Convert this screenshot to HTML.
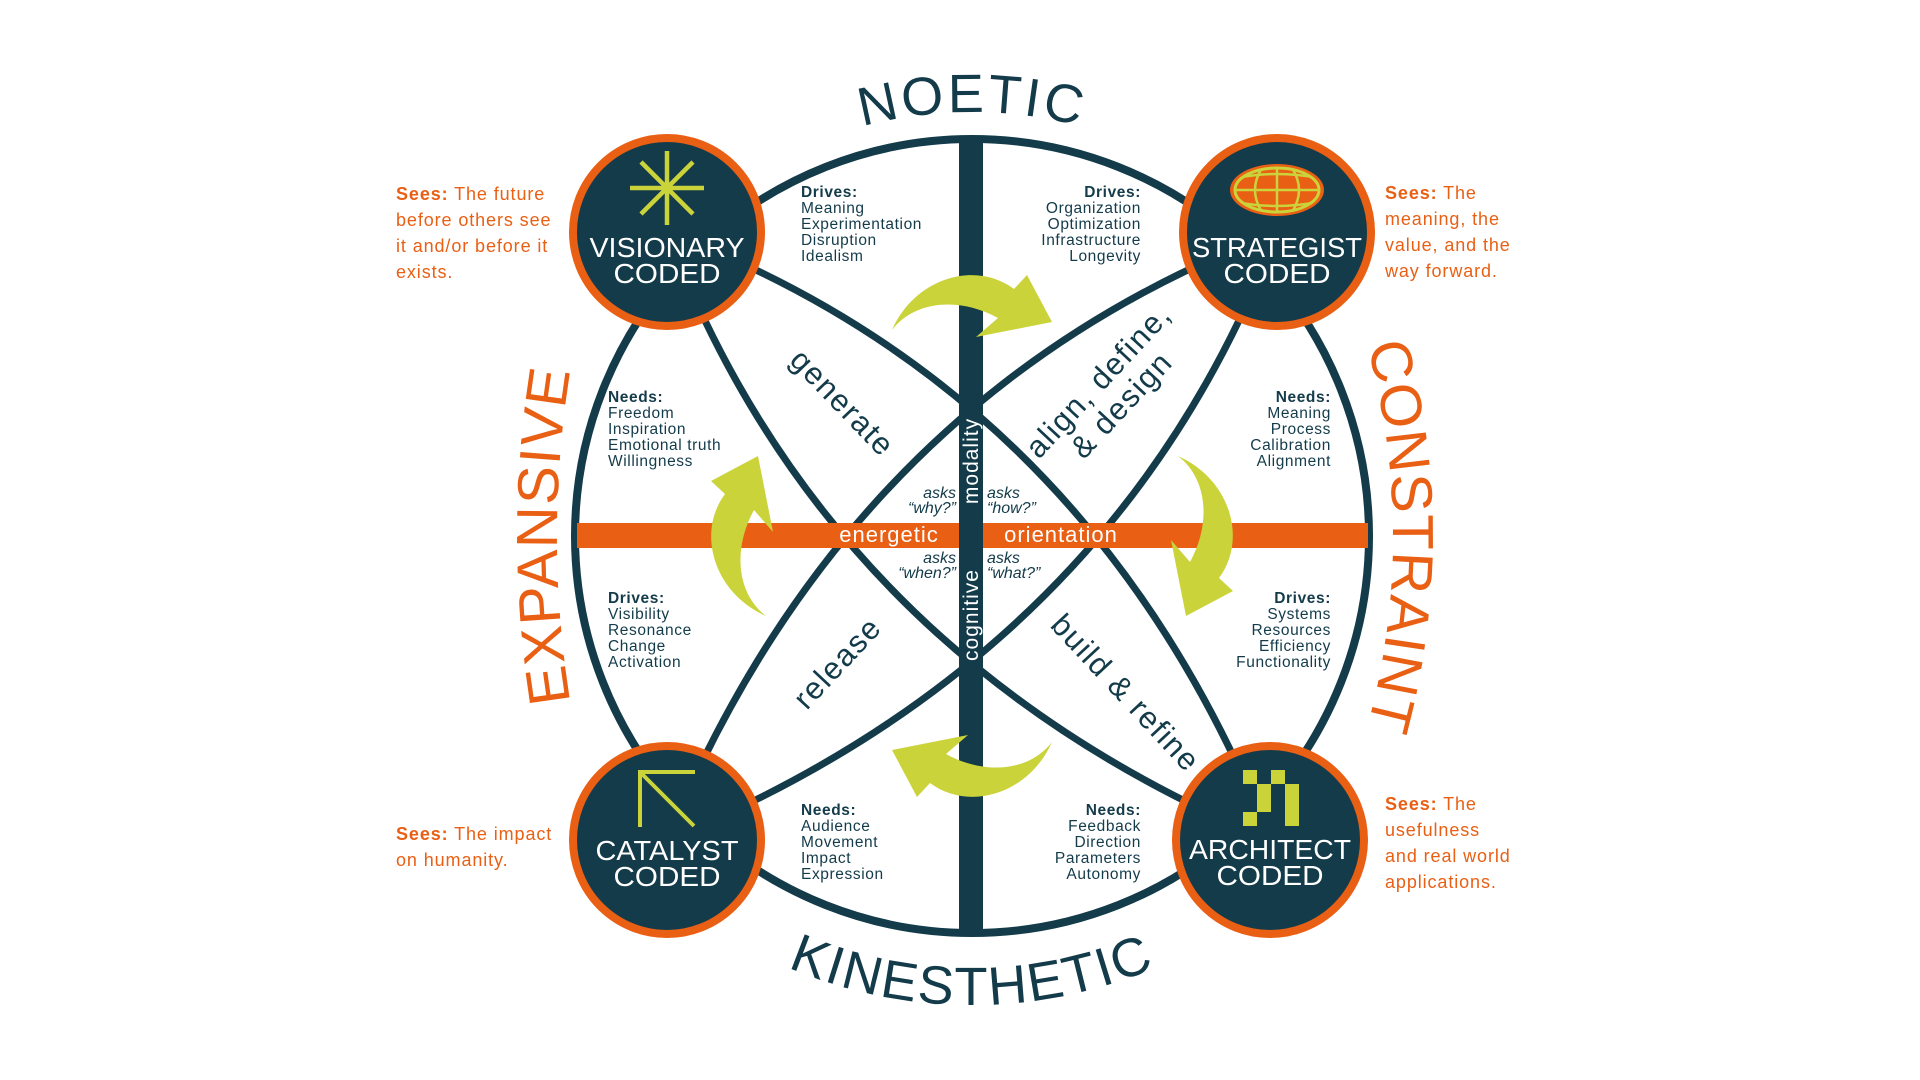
<!DOCTYPE html>
<html><head><meta charset="utf-8"><style>
html,body{margin:0;padding:0;background:#fff;}
svg{display:block;}
text{font-family:"Liberation Sans",sans-serif;}
</style></head><body>
<svg width="1920" height="1080" viewBox="0 0 1920 1080" xmlns="http://www.w3.org/2000/svg">
<defs>
<path id="topArc" d="M548,536 A424,424 0 0 1 1396,536"/>
<path id="botArc" d="M503,536 A469,469 0 0 0 1441,536"/>
<path id="leftArc" d="M572,712 Q542,536 572,360"/>
<path id="rightArc" d="M1367,345 Q1419,536 1367,728"/>
<path id="arrow" d="M892,330 C915,278 975,260 1014,289 L1027,275 L1052,322 L976,337 L998,318 C960,297 915,300 892,330 Z"/>
<clipPath id="globeClip"><ellipse cx="1277" cy="190" rx="41" ry="21"/></clipPath>
</defs>

<circle cx="972" cy="536" r="397" fill="none" stroke="#133b4a" stroke-width="8"/>
<g fill="none" stroke="#133b4a" stroke-width="7">
<path d="M667,232 Q1092,392 1270,840"/>
<path d="M667,232 Q828,656 1270,840"/>
<path d="M1277,232 Q852,392 667,840"/>
<path d="M1277,232 Q1116,656 667,840"/>
</g>
<rect x="577" y="523" width="791" height="25" fill="#e95f14"/>
<rect x="959" y="139" width="24" height="794" fill="#133b4a"/>

<text x="889" y="542" font-size="22" fill="#fff" text-anchor="middle" letter-spacing="1">energetic</text>
<text x="1061" y="542" font-size="22" fill="#fff" text-anchor="middle" letter-spacing="1">orientation</text>
<text transform="translate(978,461) rotate(-90)" font-size="21" fill="#fff" text-anchor="middle" letter-spacing="1">modality</text>
<text transform="translate(978,615) rotate(-90)" font-size="21" fill="#fff" text-anchor="middle" letter-spacing="1">cognitive</text>
<g font-size="16" font-style="italic" fill="#133b4a">
<text x="956" y="498" text-anchor="end">asks</text>
<text x="956" y="513" text-anchor="end">“why?”</text>
<text x="987" y="498">asks</text>
<text x="987" y="513">“how?”</text>
<text x="956" y="563" text-anchor="end">asks</text>
<text x="956" y="578" text-anchor="end">“when?”</text>
<text x="987" y="563">asks</text>
<text x="987" y="578">“what?”</text>
</g>

<g fill="#133b4a" font-size="31" text-anchor="middle" letter-spacing="1.5">
<text transform="translate(835,410) rotate(46)">generate</text>
<text transform="translate(1106,388) rotate(-47)">align, define,</text>
<text transform="translate(1129,412) rotate(-47)">&amp; design</text>
<text transform="translate(845,670) rotate(-47)">release</text>
<text transform="translate(1118,700) rotate(47)">build &amp; refine</text>
</g>

<g fill="#133b4a" font-size="15.5" letter-spacing="0.6">
<text x="801" y="197"><tspan font-weight="bold">Drives:</tspan><tspan x="801" dy="16">Meaning</tspan><tspan x="801" dy="16">Experimentation</tspan><tspan x="801" dy="16">Disruption</tspan><tspan x="801" dy="16">Idealism</tspan></text>
<text x="1141" y="197" text-anchor="end"><tspan font-weight="bold">Drives:</tspan><tspan x="1141" dy="16">Organization</tspan><tspan x="1141" dy="16">Optimization</tspan><tspan x="1141" dy="16">Infrastructure</tspan><tspan x="1141" dy="16">Longevity</tspan></text>
<text x="608" y="402"><tspan font-weight="bold">Needs:</tspan><tspan x="608" dy="16">Freedom</tspan><tspan x="608" dy="16">Inspiration</tspan><tspan x="608" dy="16">Emotional truth</tspan><tspan x="608" dy="16">Willingness</tspan></text>
<text x="1331" y="402" text-anchor="end"><tspan font-weight="bold">Needs:</tspan><tspan x="1331" dy="16">Meaning</tspan><tspan x="1331" dy="16">Process</tspan><tspan x="1331" dy="16">Calibration</tspan><tspan x="1331" dy="16">Alignment</tspan></text>
<text x="608" y="603"><tspan font-weight="bold">Drives:</tspan><tspan x="608" dy="16">Visibility</tspan><tspan x="608" dy="16">Resonance</tspan><tspan x="608" dy="16">Change</tspan><tspan x="608" dy="16">Activation</tspan></text>
<text x="1331" y="603" text-anchor="end"><tspan font-weight="bold">Drives:</tspan><tspan x="1331" dy="16">Systems</tspan><tspan x="1331" dy="16">Resources</tspan><tspan x="1331" dy="16">Efficiency</tspan><tspan x="1331" dy="16">Functionality</tspan></text>
<text x="801" y="815"><tspan font-weight="bold">Needs:</tspan><tspan x="801" dy="16">Audience</tspan><tspan x="801" dy="16">Movement</tspan><tspan x="801" dy="16">Impact</tspan><tspan x="801" dy="16">Expression</tspan></text>
<text x="1141" y="815" text-anchor="end"><tspan font-weight="bold">Needs:</tspan><tspan x="1141" dy="16">Feedback</tspan><tspan x="1141" dy="16">Direction</tspan><tspan x="1141" dy="16">Parameters</tspan><tspan x="1141" dy="16">Autonomy</tspan></text>
</g>

<g fill="#cbd33a">
<use href="#arrow"/>
<use href="#arrow" transform="rotate(90 972 536)"/>
<use href="#arrow" transform="rotate(180 972 536)"/>
<use href="#arrow" transform="rotate(270 972 536)"/>
</g>

<g fill="#133b4a" stroke="#e95f14" stroke-width="8">
<circle cx="667" cy="232" r="94"/>
<circle cx="1277" cy="232" r="94"/>
<circle cx="667" cy="840" r="94"/>
<circle cx="1270" cy="840" r="94"/>
</g>

<g stroke="#cbd33a" stroke-width="4.5">
<line x1="667" y1="151" x2="667" y2="225"/>
<line x1="630" y1="188" x2="704" y2="188"/>
<line x1="641" y1="162" x2="693" y2="214"/>
<line x1="693" y1="162" x2="641" y2="214"/>
</g>
<ellipse cx="1277" cy="190" rx="47" ry="26" fill="#e95f14"/>
<ellipse cx="1277" cy="190" rx="42" ry="22" fill="#e95f14" stroke="#cbd33a" stroke-width="3"/>
<g clip-path="url(#globeClip)" fill="none" stroke="#cbd33a" stroke-width="2.5">
<line x1="1230" y1="190" x2="1324" y2="190"/>
<path d="M1236,178 Q1277,170 1318,178"/>
<path d="M1236,202 Q1277,210 1318,202"/>
<line x1="1277" y1="165" x2="1277" y2="215"/>
<path d="M1262,168 Q1248,190 1262,212"/>
<path d="M1292,168 Q1306,190 1292,212"/>
</g>
<g stroke="#cbd33a" stroke-width="4" fill="none">
<path d="M695,772 L640,772 L640,827"/>
<line x1="642" y1="774" x2="694" y2="826"/>
</g>
<g fill="#cbd33a">
<rect x="1243" y="770" width="14" height="14"/>
<rect x="1271" y="770" width="14" height="14"/>
<rect x="1257" y="784" width="14" height="28"/>
<rect x="1285" y="784" width="14" height="42"/>
<rect x="1243" y="812" width="14" height="14"/>
</g>

<g fill="#fff" font-size="28" text-anchor="middle">
<text x="667" y="257" textLength="155" lengthAdjust="spacingAndGlyphs">VISIONARY</text>
<text x="667" y="283" textLength="107" lengthAdjust="spacingAndGlyphs">CODED</text>
<text x="1277" y="257" textLength="170" lengthAdjust="spacingAndGlyphs">STRATEGIST</text>
<text x="1277" y="283" textLength="107" lengthAdjust="spacingAndGlyphs">CODED</text>
<text x="667" y="860" textLength="143" lengthAdjust="spacingAndGlyphs">CATALYST</text>
<text x="667" y="886" textLength="107" lengthAdjust="spacingAndGlyphs">CODED</text>
<text x="1270" y="859" textLength="162" lengthAdjust="spacingAndGlyphs">ARCHITECT</text>
<text x="1270" y="885" textLength="107" lengthAdjust="spacingAndGlyphs">CODED</text>
</g>

<g fill="#e95f14" font-size="18" letter-spacing="0.9">
<text x="396" y="200"><tspan font-weight="bold">Sees:</tspan> The future<tspan x="396" dy="26">before others see</tspan><tspan x="396" dy="26">it and/or before it</tspan><tspan x="396" dy="26">exists.</tspan></text>
<text x="1385" y="199"><tspan font-weight="bold">Sees:</tspan> The<tspan x="1385" dy="26">meaning, the</tspan><tspan x="1385" dy="26">value, and the</tspan><tspan x="1385" dy="26">way forward.</tspan></text>
<text x="396" y="840"><tspan font-weight="bold">Sees:</tspan> The impact<tspan x="396" dy="26">on humanity.</tspan></text>
<text x="1385" y="810"><tspan font-weight="bold">Sees:</tspan> The<tspan x="1385" dy="26">usefulness</tspan><tspan x="1385" dy="26">and real world</tspan><tspan x="1385" dy="26">applications.</tspan></text>
</g>

<text font-size="54" fill="#133b4a" letter-spacing="3"><textPath href="#topArc" startOffset="50%" text-anchor="middle">NOETIC</textPath></text>
<text font-size="54" fill="#133b4a" letter-spacing="2"><textPath href="#botArc" startOffset="50%" text-anchor="middle">KINESTHETIC</textPath></text>
<text font-size="58" fill="#e95f14" letter-spacing="1"><textPath href="#leftArc" startOffset="50%" text-anchor="middle">EXPANSIVE</textPath></text>
<text font-size="58" fill="#e95f14" letter-spacing="1"><textPath href="#rightArc" startOffset="50%" text-anchor="middle">CONSTRAINT</textPath></text>
</svg>
</body></html>
